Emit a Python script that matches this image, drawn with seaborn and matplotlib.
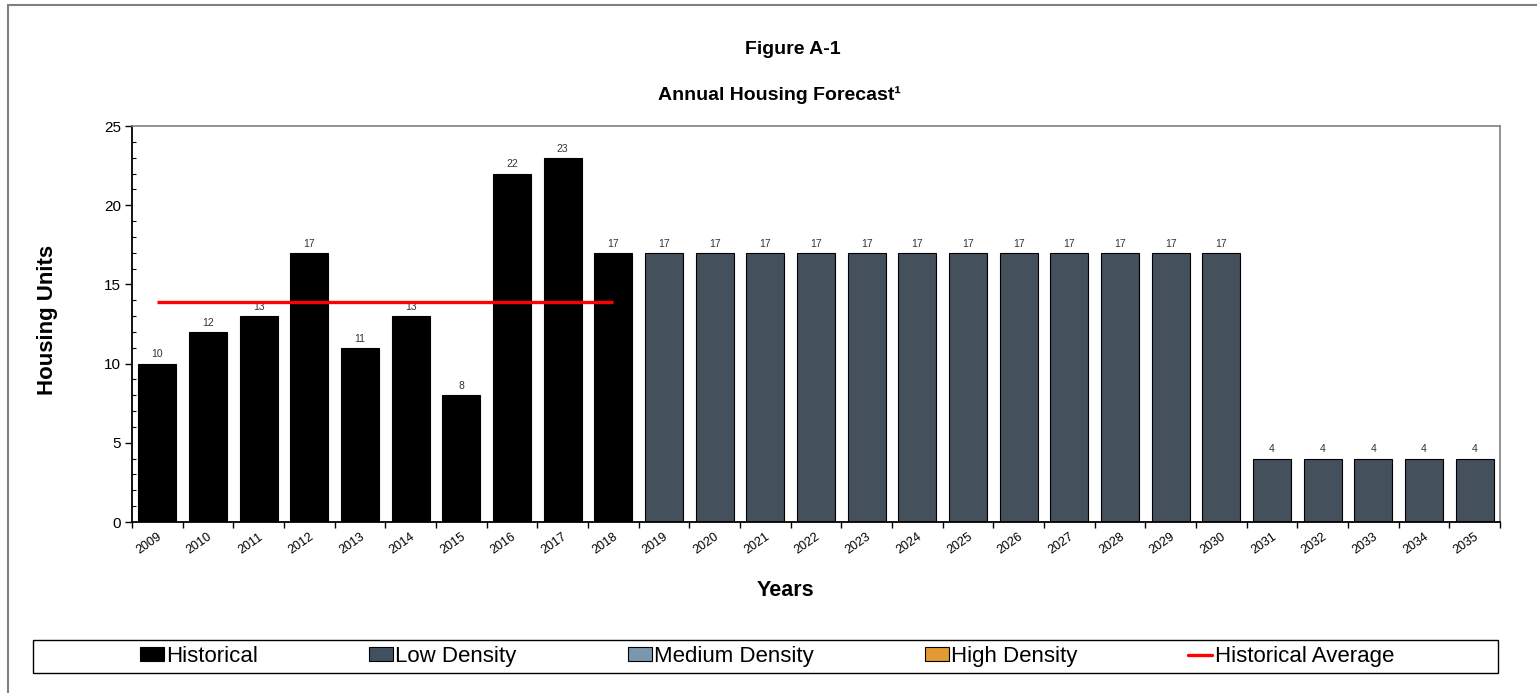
import numpy as np
import pandas as pd
import matplotlib
matplotlib.use("Agg")
import matplotlib.pyplot as plt
import matplotlib.transforms as mtransforms
from matplotlib.patches import Patch, Rectangle
from matplotlib.lines import Line2D
from matplotlib.ticker import MultipleLocator, FixedLocator
import seaborn as sns

# ---- data ----
years = [str(y) for y in range(2009, 2036)]
historical = [10, 12, 13, 17, 11, 13, 8, 22, 23, 17]
low_density = [17] * 12 + [4] * 5
hist_average = 13.9
series_names = ["Historical", "Low Density", "Medium Density", "High Density", "Historical Average"]
colors = {"Historical": "#000000", "Low Density": "#415061",
          "Medium Density": "#7B97AE", "High Density": "#E39A32",
          "Historical Average": "#FF0000"}

df = pd.DataFrame({
    "Year": years,
    "Units": historical + low_density,
    "Type": ["Historical"] * len(historical) + ["Low Density"] * len(low_density),
})

sns.set_theme(style="white")
plt.rcParams['font.family'] = ['Liberation Sans', 'DejaVu Sans']
plt.rcParams['text.color'] = 'black'
plt.rcParams['axes.labelcolor'] = 'black'
plt.rcParams['xtick.color'] = 'black'
plt.rcParams['ytick.color'] = 'black'

fig = plt.figure(figsize=(15.37, 6.93), dpi=100)
W, H = 1537, 693
ax = fig.add_axes([132 / W, 1 - 522 / H, (1500 - 132) / W, (522 - 126) / H])

sns.barplot(data=df, x="Year", y="Units", hue="Type",
            hue_order=["Historical", "Low Density"],
            palette={k: colors[k] for k in ["Historical", "Low Density"]},
            dodge=False, width=0.75, edgecolor="black", linewidth=0.8,
            legend=False, ax=ax)

for cont in ax.containers:
    ax.bar_label(cont, fontsize=7.5, padding=3, color="#333333")

ax.hlines(hist_average, 0, len(historical) - 1, color=colors["Historical Average"], lw=2.4, zorder=5)

ax.set_ylim(0, 25)
ax.set_xlim(-0.5, len(years) - 0.5)
ax.yaxis.set_major_locator(MultipleLocator(5))
ax.yaxis.set_minor_locator(MultipleLocator(1))
ax.tick_params(axis="y", which="major", direction="out", length=5, width=1, labelsize=11,
               left=True, pad=3)
ax.tick_params(axis="y", which="minor", direction="in", length=3, width=0.8, left=True)
ax.xaxis.set_minor_locator(FixedLocator(np.arange(-0.5, len(years) + 0.5, 1)))
ax.tick_params(axis="x", which="major", length=0, labelsize=9, pad=10)
ax.tick_params(axis="x", which="minor", direction="out", length=4, width=1, bottom=True)
offset = mtransforms.ScaledTranslation(3 / 100, 0, fig.dpi_scale_trans)
for lbl in ax.get_xticklabels():
    lbl.set_rotation(35)
    lbl.set_ha("right")
    lbl.set_rotation_mode("anchor")
    lbl.set_va("center")
    lbl.set_transform(lbl.get_transform() + offset)

ax.set_xlabel("")
ax.set_ylabel("")
for s in ["left", "bottom"]:
    ax.spines[s].set_color("black")
    ax.spines[s].set_linewidth(1.3)
for s in ["top", "right"]:
    ax.spines[s].set_color("#808080")
    ax.spines[s].set_linewidth(1.2)
ax.grid(False)

fig.text(793 / W, 1 - 49.5 / H, "Figure A-1", fontsize=14, fontweight="bold", ha="center", va="center")
fig.text(779 / W, 1 - 95 / H, "Annual Housing Forecast\u00b9", fontsize=14, fontweight="bold", ha="center", va="center")
fig.text(48 / W, 1 - 320 / H, "Housing Units", fontsize=16, fontweight="bold", rotation=90, ha="center", va="center")
fig.text(785 / W, 1 - 590 / H, "Years", fontsize=15.5, fontweight="bold", ha="center", va="center")

# outer frame
fig.patches.append(Rectangle((8 / W, -0.05), 1.1, 1 - 5 / H + 0.05, transform=fig.transFigure,
                             fill=False, edgecolor="#808080", lw=1.5, zorder=0))
# legend frame
fig.patches.append(Rectangle((33 / W, 1 - 673 / H), (1498 - 33) / W, 33 / H, transform=fig.transFigure,
                             fill=False, edgecolor="black", lw=1.0, zorder=0))

handles = [Patch(facecolor=colors[n], edgecolor="black", lw=0.8) for n in series_names[:4]]
handles.append(Line2D([0], [0], color=colors["Historical Average"], lw=2.4))
fig.legend(handles, series_names, loc="center", bbox_to_anchor=(767 / W, 1 - 656.5 / H),
           ncol=5, frameon=False, fontsize=16, handlelength=1.08, handleheight=0.55,
           handletextpad=0.1, columnspacing=5.0, borderpad=0)

fig.savefig("out.png", dpi=100)
